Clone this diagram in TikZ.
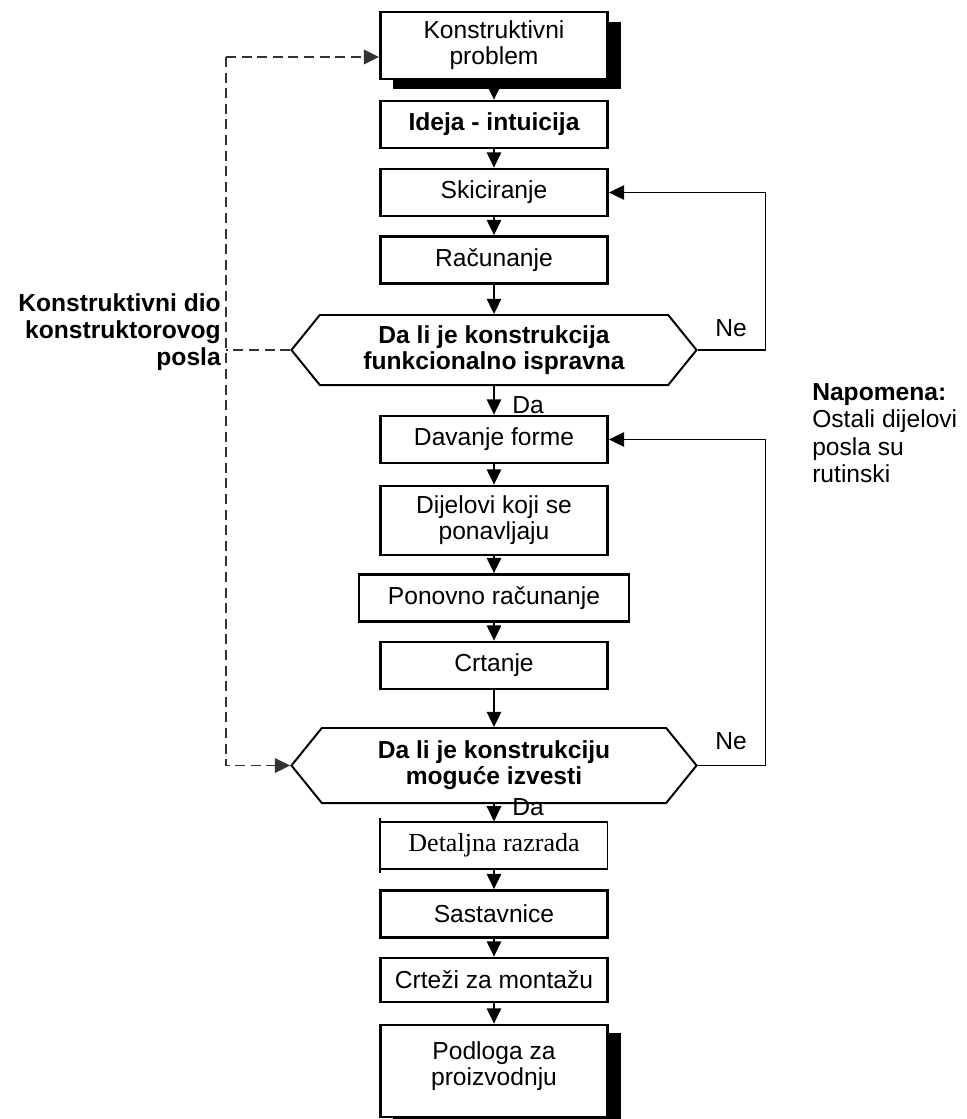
\documentclass[tikz,border=0pt]{standalone}
\usepackage{fontspec}
\setmainfont{Liberation Sans}
\newfontfamily\serifface{Liberation Serif}
\usetikzlibrary{arrows.meta,shapes.symbols,shadows}

\begin{document}
\begin{tikzpicture}[x=0.025cm,y=-0.025cm,
        font=\fontsize{17.5}{18.6}\selectfont,
        box/.style={draw,line width=2pt,fill=white,minimum width=5.675cm,minimum height=1.175cm,inner sep=0pt,align=center},
        shadowbox/.style={box,drop shadow={shadow xshift=0.325cm,shadow yshift=-0.25cm,fill=black,opacity=1}},
        question/.style={draw,line width=1.4pt,shape=signal,signal to=west and east,signal pointer angle=102,
            minimum width=10.125cm,minimum height=1.75cm,inner sep=0pt,align=center,font=\fontsize{17.5}{18.6}\selectfont\bfseries},
        flow/.style={line width=1.1pt,-{Triangle[length=0.38cm,width=0.36cm]}},
        back/.style={line width=0.9pt,-{Triangle[length=0.38cm,width=0.36cm]}},
        dashline/.style={line width=1.4pt,draw=black!80,dash pattern=on 0.25cm off 0.14cm},
        side/.style={inner sep=0pt,font=\fontsize{17.5}{19.5}\selectfont}]
        \useasboundingbox (0,0) rectangle (967,1119);

        % main column
        \draw (494,45.5)  node[shadowbox,minimum height=1.675cm] (prob) {Konstruktivni\\problem};
        \draw (494,124.5) node[box,font=\fontsize{17.5}{18.6}\selectfont\bfseries] (ideja) {Ideja - intuicija};
        \draw (494,192.5) node[box] (skic) {Skiciranje};
        \draw (494,260)   node[box] (racun) {Ra\v{c}unanje};
        \draw (494,350)   node[question] (q1) {Da li je konstrukcija\\funkcionalno ispravna};
        \draw (494,439.5) node[box] (forma) {Davanje forme};
        \draw (494,520.5) node[box,minimum height=1.725cm] (dijel) {Dijelovi koji se\\ponavljaju};
        \draw (494,598)   node[box,minimum width=6.75cm] (ponov) {Ponovno ra\v{c}unanje};
        \draw (494,665.5) node[box] (crt) {Crtanje};
        \draw (494,765.5) node[question,minimum height=1.875cm] (q2) {Da li je konstrukciju\\mogu\'{c}e izvesti};
        \draw (494,845.5) node[box,line width=0.8pt,font=\serifface\fontsize{18.5}{20}\selectfont] (detalj) {Detaljna razrada};
        \draw (494,914)   node[box] (sast) {Sastavnice};
        \draw (494,980)   node[box,minimum height=1.1cm] (crtez) {Crte\v{z}i za monta\v{z}u};
        \draw (494,1071)  node[shadowbox,minimum height=2.3cm,drop shadow={shadow xshift=0.325cm,shadow yshift=-0.2cm,fill=black,opacity=1}] (podl) {Podloga za\\proizvodnju\\[-0.3cm]\mbox{}};
        \draw[line width=2pt] ([yshift=0.08cm]detalj.north west) -- ([yshift=-0.08cm]detalj.south west);

        % arrows down the column
        \draw[flow] (prob) -- (ideja);
        \draw[flow] (ideja) -- (skic);
        \draw[flow] (skic) -- (racun);
        \draw[flow] (racun) -- (q1.north);
        \draw[flow] (q1.south) -- (forma);
        \draw[flow] (forma) -- (dijel);
        \draw[flow] (dijel) -- (ponov);
        \draw[flow] (ponov) -- (crt);
        \draw[flow] (crt) -- (q2.north);
        \draw[flow] (q2.south) -- (detalj);
        \draw[flow] (detalj) -- (sast);
        \draw[flow] (sast) -- (crtez);
        \draw[flow] (crtez) -- (podl);
        \node[side,anchor=west] (da1) at (512,405) {Da};
        \node[side,anchor=west] (da2) at (512,807) {Da};

        % loops back
        \draw[back] (q1.east) -- ++(68,0) |- (skic.east);
        \draw[back] (q2.east) -- ++(68,0) |- (forma.east);
        \node[side] (ne1) at (731,328) {Ne};
        \node[side] (ne2) at (731,741) {Ne};

        % dashed part
        \coordinate (dtop) at (226,57);
        \draw[dashline,-{Triangle[length=0.38cm,width=0.36cm]}] (dtop) -- (prob.west |- dtop);
        \draw[dashline] (q1.west) -- (dtop |- q1.west);
        \draw[dashline,-{Triangle[length=0.38cm,width=0.36cm]}] (dtop) |- (q2.west);

        % side notes
        \node[side,anchor=north east,align=right,font=\fontsize{17.5}{19.5}\selectfont\bfseries] (dio) at (221,293) {Konstruktivni dio\\konstruktorovog\\posla};
        \node[side,anchor=north west,align=left] (napomena) at (812,383) {\textbf{Napomena:}\\Ostali dijelovi\\posla su\\rutinski};
\end{tikzpicture}
\end{document}
